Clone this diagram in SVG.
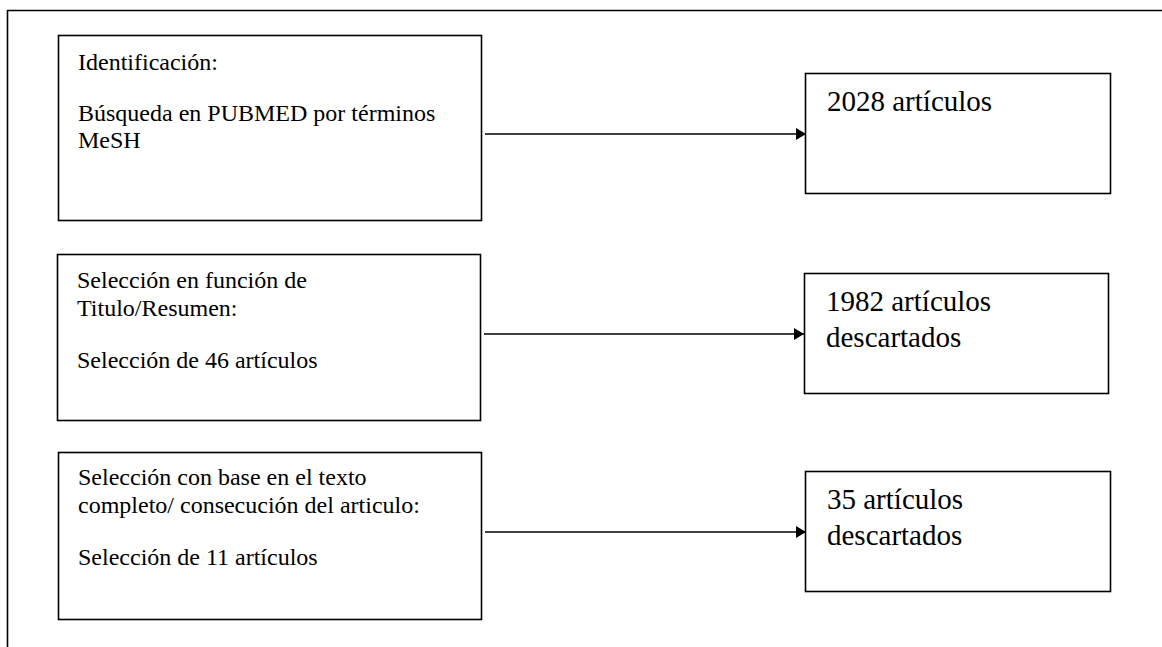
<svg xmlns="http://www.w3.org/2000/svg" width="1162" height="647" viewBox="0 0 1162 647">
<defs>
<style>
.box{fill:#fff;stroke:#000;stroke-width:1.6}
.frame{fill:none;stroke:#000;stroke-width:1.6}
.t{font-family:"Liberation Serif","Times New Roman",serif;font-size:24px;fill:#000}
.r{font-family:"Liberation Serif","Times New Roman",serif;font-size:29px;fill:#000}
.conn{stroke:#000;stroke-width:1.5;fill:none;marker-end:url(#ah)}
</style>
<marker id="ah" viewBox="0 0 10 12" refX="10" refY="6" markerWidth="10" markerHeight="12" markerUnits="userSpaceOnUse" orient="auto">
<path d="M0,0 L10,6 L0,12 Z" fill="#000"/>
</marker>
</defs>
<rect width="1162" height="647" fill="#fff"/>
<path class="frame" d="M7.5,647 V10.5 H1162"/>
<g id="connectors">
<line class="conn" x1="485" y1="134" x2="806" y2="134"/>
<line class="conn" x1="484" y1="334" x2="804" y2="334"/>
<line class="conn" x1="485" y1="532" x2="806" y2="532"/>
</g>
<g id="n1">
<rect class="box" x="58.5" y="35.5" width="423" height="185"/>
<text class="t" x="78" y="70">Identificación:</text>
<text class="t" x="78" y="121">Búsqueda en PUBMED por términos</text>
<text class="t" x="78" y="148">MeSH</text>
</g>
<g id="n2">
<rect class="box" x="805.5" y="73.5" width="305" height="120"/>
<text class="r" x="827" y="111">2028 artículos</text>
</g>
<g id="n3">
<rect class="box" x="57.5" y="254.5" width="423" height="166"/>
<text class="t" x="77" y="288">Selección en función de</text>
<text class="t" x="77" y="316">Titulo/Resumen:</text>
<text class="t" x="77" y="368">Selección de 46 artículos</text>
</g>
<g id="n4">
<rect class="box" x="804.5" y="273.5" width="304" height="120"/>
<text class="r" x="826" y="311">1982 artículos</text>
<text class="r" x="826" y="347">descartados</text>
</g>
<g id="n5">
<rect class="box" x="58.5" y="452.5" width="423" height="167"/>
<text class="t" x="78" y="485">Selección con base en el texto</text>
<text class="t" x="78" y="513">completo/ consecución del articulo:</text>
<text class="t" x="78" y="565">Selección de 11 artículos</text>
</g>
<g id="n6">
<rect class="box" x="805.5" y="471.5" width="305" height="120"/>
<text class="r" x="827" y="509">35 artículos</text>
<text class="r" x="827" y="545">descartados</text>
</g>
</svg>
